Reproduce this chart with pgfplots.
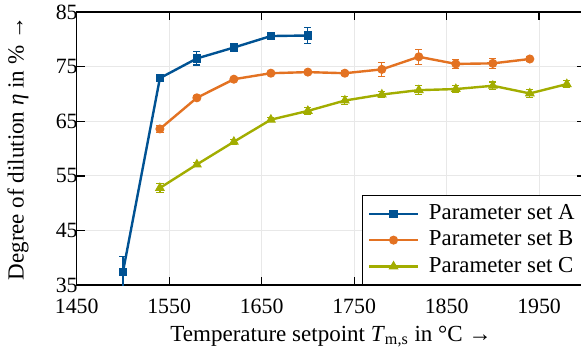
\documentclass[border=0pt]{standalone}
\usepackage{fontspec}
\setmainfont{Liberation Serif}
\usepackage{pgfplots}
\pgfplotsset{compat=1.18}
\usetikzlibrary{calc}
\definecolor{cA}{HTML}{005293}
\definecolor{cB}{HTML}{E37222}
\definecolor{cC}{HTML}{A2AD00}
\begin{document}
\fontsize{10.9}{13}\selectfont
\begin{tikzpicture}[font=\fontsize{10.9}{13}\selectfont]
\begin{axis}[name=ax, scale only axis, width=254.1pt, height=136.5pt,
  xmin=1450, xmax=2000, ymin=35, ymax=85,
  xtick={1450,1550,...,1950}, ytick={35,45,...,85},
  grid=major, grid style={gray!18, line width=0.5pt},
  major tick length=4pt, tick style={black, line width=0.6pt},
  axis line style={line width=0.75pt},
  /pgf/number format/assume math mode=true,
  /pgf/number format/set thousands separator={},
  tick label style={font=\fontsize{10.9}{13}\selectfont},
  xticklabel style={anchor=base, yshift=-14pt},
  yticklabel style={xshift=4.3pt},
  label style={font=\fontsize{11.5}{13}\selectfont},
  xlabel={Temperature setpoint \textit{T}\textsubscript{m,s} in °C →},
  ylabel={Degree of dilution \textit{η} in \% →},
  xlabel style={at={(axis description cs:0.5,-0.205)}, anchor=base},
  ylabel style={at={(axis description cs:-0.1043,0.5)}, anchor=base, rotate=0},
  legend style={at={(1,0)}, anchor=south east, draw=black, line width=0.6pt,
    font=\fontsize{11.4}{13}\selectfont, inner xsep=3pt, inner ysep=2.5pt,
    nodes={inner sep=2pt},
    /tikz/every odd column/.append style={column sep=3pt}},
  legend cell align=left,
  legend image code/.code={%
    \draw[mark repeat=2, mark phase=2, #1] plot coordinates {(0cm,0cm) (0.425cm,0cm) (0.85cm,0cm)};},
]
\addplot[cA, line width=1.2pt, mark=square*, mark size=1.8pt, mark options={line width=0.5pt, fill=cA},
  error bars/.cd, y dir=both, y explicit, error bar style={line width=0.6pt},
  error mark options={rotate=90, mark size=1.8pt, line width=0.6pt}]
  table[x=x, y=y, y error=e] {
x y e
1500 37.4 2.8
1540 72.9 0.4
1580 76.5 1.2
1620 78.5 0.4
1660 80.6 0.4
1700 80.7 1.4
};
\addlegendentry{Parameter set A}
\addplot[cB, line width=1.2pt, mark=*, mark size=2pt, mark options={line width=0.5pt, fill=cB},
  error bars/.cd, y dir=both, y explicit, error bar style={line width=0.6pt},
  error mark options={rotate=90, mark size=1.8pt, line width=0.6pt}]
  table[x=x, y=y, y error=e] {
x y e
1540 63.6 0.6
1580 69.3 0.4
1620 72.7 0.3
1660 73.8 0.3
1700 74.0 0.3
1740 73.8 0.4
1780 74.5 1.25
1820 76.8 1.35
1860 75.5 0.8
1900 75.6 0.9
1940 76.4 0.5
};
\addlegendentry{Parameter set B}
\addplot[cC, line width=1.2pt, mark=triangle*, mark size=2.4pt, mark options={line width=0.5pt, fill=cC},
  error bars/.cd, y dir=both, y explicit, error bar style={line width=0.6pt},
  error mark options={rotate=90, mark size=1.8pt, line width=0.6pt}]
  table[x=x, y=y, y error=e] {
x y e
1540 52.8 0.8
1580 57.1 0.4
1620 61.25 0.4
1660 65.3 0.4
1700 66.9 0.6
1740 68.8 0.7
1780 69.9 0.6
1820 70.7 0.8
1860 70.9 0.6
1900 71.5 0.7
1940 70.1 0.7
1980 71.8 0.6
};
\addlegendentry{Parameter set C}
\end{axis}
\pgfresetboundingbox
\useasboundingbox ($(ax.south west)+(-38.3pt,-35pt)$) rectangle ($(ax.north east)+(-2.15pt,6pt)$);
\end{tikzpicture}
\end{document}
